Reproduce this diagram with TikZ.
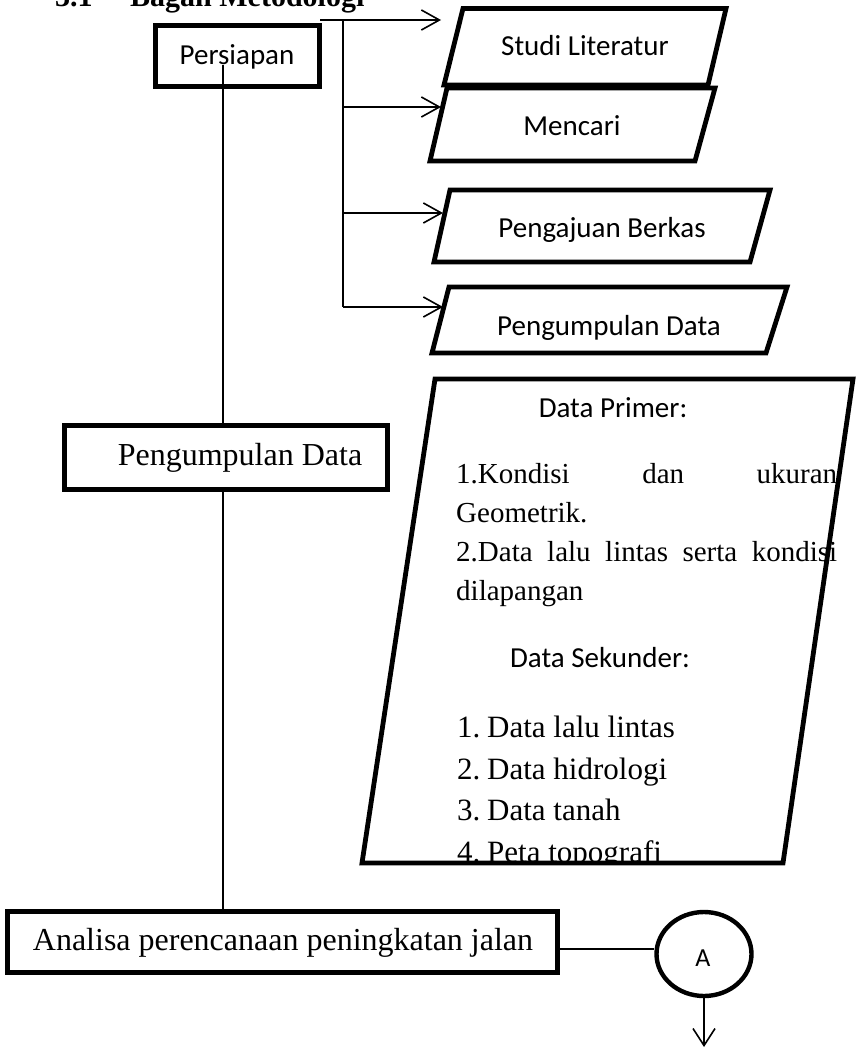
\documentclass[tikz,border=0pt]{standalone}
\usepackage{fontspec}
\setmainfont{Liberation Serif}
\newfontfamily\calfont{Carlito}
\usetikzlibrary{arrows.meta,shapes.geometric}
\begin{document}
\begin{tikzpicture}[x=1pt,y=-1pt,
  thinline/.style={line width=1.6pt},
  thickbox/.style={draw, line width=4.8pt, rectangle, inner sep=0pt, outer sep=0pt},
  para/.style={draw, line width=4.8pt, line join=miter},
  sanslabel/.style={font=\calfont\fontsize{29}{34}\selectfont, inner sep=0pt, anchor=base},
  seriflabel/.style={font=\fontsize{32}{38}\selectfont, inner sep=0pt, anchor=base},
  primtext/.style={font=\fontsize{29}{34}\selectfont, inner sep=0pt, anchor=base west},
  sektext/.style={font=\fontsize{31}{36}\selectfont, inner sep=0pt, anchor=base west},
  arr/.style={line width=1.6pt, -{Straight Barb[length=18pt,width=20pt,line width=1.6pt]}},
]
\useasboundingbox (0,0) rectangle (856,1049);

% title (cut off at the top, as in the reference)
\node[anchor=base west, inner sep=0pt, font=\bfseries\fontsize{30}{36}\selectfont] (title) at (55,7) {\makebox[75pt][l]{3.1}Bagan Metodologi};

% left column boxes
\node[thickbox, minimum width=164pt, minimum height=61pt] (persiapan) at (237.5,56) {};
\node[sanslabel] (persiapantext) at (237,65) {Persiapan};

\node[thickbox, minimum width=323pt, minimum height=64pt] (pdbox) at (226,457.5) {};
\node[seriflabel] (pdtext) at (240,465) {Pengumpulan Data};

\node[thickbox, minimum width=550pt, minimum height=61pt] (analisa) at (282.5,942) {};
\node[seriflabel] (analisatext) at (283,950) {Analisa perencanaan peningkatan jalan};

\node[draw, ellipse, line width=4.4pt, minimum width=95pt, minimum height=84pt, inner sep=0pt] (circA) at (704,954) {};
\node[font=\calfont\fontsize{26}{30}\selectfont, anchor=base, inner sep=0pt] (Atext) at (703,966) {A};

% main vertical line
\coordinate (v0) at (223,65);
\draw[thinline] (v0) -- (v0 |- pdbox.north);
\draw[thinline] (v0 |- pdbox.south) -- (v0 |- analisa.north);

% connector to A and arrow down
\coordinate (cy) at (0,949);
\coordinate (downend) at (704,1047);
\draw[thinline] (analisa.east |- cy) -- (circA.west |- cy);
\draw[arr, -{Straight Barb[length=17pt,width=22pt,line width=1.6pt]}] (circA.south) -- (downend);

% bracket and arrows
\coordinate (b0) at (320,20);
\coordinate (bj) at (343,20);
\coordinate (bbot) at (343,307);
\coordinate (a1) at (441,20);
\coordinate (a2) at (441,107);
\coordinate (a3) at (443,213);
\coordinate (a4) at (443,307);
\draw[thinline] (b0) -- (bj) -- (bbot);
\draw[arr] (bj) -- (a1);
\draw[arr] (bj |- a2) -- (a2);
\draw[arr] (bj |- a3) -- (a3);
\draw[arr] (bj |- a4) -- (a4);

% parallelograms
\draw[para] (463,8.5) -- (726,8.5) -- (708,85) -- (444,85) -- cycle;
\node[sanslabel] (studi) at (585,56) {Studi Literatur};

\draw[para] (447,88) -- (715,88) -- (695,161) -- (430,161) -- cycle;
\node[sanslabel] (mencari) at (572,135) {Mencari};

\draw[para] (450,190) -- (770,190) -- (750,262) -- (434,262) -- cycle;
\node[sanslabel] (pengajuan) at (602,237) {Pengajuan Berkas};

\draw[para] (449,287) -- (787,287) -- (766,353) -- (432,353) -- cycle;
\node[sanslabel] (pengumpulan) at (609,335) {Pengumpulan Data};

% big data parallelogram
\node[sanslabel] (primer) at (613,417) {Data Primer:};
\node[primtext] (p1) at (456,483) {\makebox[381pt][s]{1.Kondisi dan ukuran}};
\node[primtext] (p2) at (456,522) {Geometrik.};
\node[primtext] (p3) at (456,561) {\makebox[381pt][s]{2.Data lalu lintas serta kondisi}};
\node[primtext] (p4) at (456,600) {dilapangan};
\node[sanslabel] (sekunder) at (600,667) {Data Sekunder:};
\node[sektext] (s1) at (457,737) {\makebox[30pt][l]{1.}Data lalu lintas};
\node[sektext] (s2) at (457,779) {\makebox[30pt][l]{2.}Data hidrologi};
\node[sektext] (s3) at (457,820) {\makebox[30pt][l]{3.}Data tanah};
\begin{scope}
\clip (0,0) rectangle (856,860);
\node[sektext] (s4) at (457,862) {\makebox[30pt][l]{4.}Peta topografi};
\end{scope}
\draw[para] (435,379) -- (853,379) -- (783,863) -- (362,863) -- cycle;
\end{tikzpicture}
\end{document}
